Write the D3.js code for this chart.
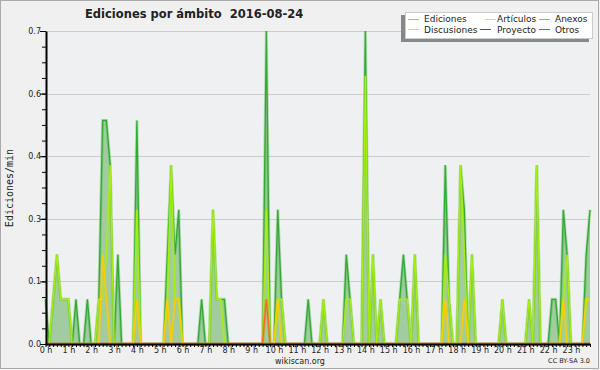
<!DOCTYPE html>
<html>
<head>
<meta charset="utf-8">
<script src="https://cdnjs.cloudflare.com/ajax/libs/d3/7.8.5/d3.min.js"></script>
<style>
  body { margin: 0; background: #f0f0f0; }
  svg { display: block; }
  text { font-family: "DejaVu Sans", sans-serif; fill: #222; }
</style>
</head>
<body>
<svg width="600" height="370"></svg>
<script>
// 10-minute bins, 6 per hour, 144 per day (edits / min)
var ediciones = [
    0.1, 0, 0.1, 0.2, 0.1, 0.1,   0.1, 0, 0.1, 0, 0, 0.1,
    0, 0, 0.1, 0.5, 0.5, 0.4,     0, 0.2, 0, 0, 0, 0,
    0.5, 0, 0, 0, 0, 0,           0, 0, 0.2, 0.4, 0.2, 0.3,
    0, 0, 0, 0, 0, 0.1,           0, 0, 0.3, 0.1, 0.1, 0.1,
    0, 0, 0, 0, 0, 0,             0, 0, 0, 0, 0.7, 0,
    0, 0.3, 0.1, 0, 0, 0,         0, 0, 0, 0.1, 0, 0,
    0, 0.1, 0, 0, 0, 0,           0, 0.2, 0.1, 0, 0, 0,
    0.7, 0, 0.2, 0, 0.1, 0,       0, 0, 0, 0.1, 0.2, 0.1,
    0, 0.2, 0, 0, 0, 0,           0, 0, 0, 0.4, 0.1, 0,
    0, 0.4, 0.3, 0, 0.2, 0,       0, 0, 0, 0, 0, 0,
    0.1, 0, 0, 0, 0, 0,           0, 0.1, 0, 0.4, 0, 0,
    0, 0.1, 0.1, 0, 0.3, 0.2,     0, 0, 0, 0, 0.2, 0.3
];
var articulos = [
    0, 0, 0.1, 0.2, 0.1, 0.1,     0.1, 0, 0, 0, 0, 0,
    0, 0, 0.1, 0.1, 0.2, 0.4,     0, 0, 0, 0, 0, 0,
    0.3, 0, 0, 0, 0, 0,           0, 0, 0.1, 0.4, 0.1, 0.1,
    0, 0, 0, 0, 0, 0,             0, 0, 0.3, 0.1, 0.1, 0,
    0, 0, 0, 0, 0, 0,             0, 0, 0, 0, 0.3, 0,
    0, 0.1, 0.1, 0, 0, 0,         0, 0, 0, 0, 0, 0,
    0, 0.1, 0, 0, 0, 0,           0, 0.1, 0.1, 0, 0, 0,
    0.6, 0, 0.2, 0, 0.1, 0,       0, 0, 0, 0.1, 0.1, 0.1,
    0, 0.2, 0, 0, 0, 0,           0, 0, 0, 0.2, 0.1, 0,
    0, 0.4, 0.2, 0, 0.2, 0,       0, 0, 0, 0, 0, 0,
    0.1, 0, 0, 0, 0, 0,           0, 0.1, 0, 0.4, 0, 0,
    0, 0, 0, 0, 0.1, 0.2,         0, 0, 0, 0, 0.1, 0.1
];
var discusiones = [
    0, 0, 0, 0, 0, 0,             0, 0, 0, 0, 0, 0,
    0, 0, 0, 0.2, 0.1, 0,         0, 0, 0, 0, 0, 0,
    0.1, 0, 0, 0, 0, 0,           0, 0, 0.1, 0, 0.1, 0.1,
    0, 0, 0, 0, 0, 0,             0, 0, 0, 0, 0, 0,
    0, 0, 0, 0, 0, 0,             0, 0, 0, 0, 0, 0,
    0, 0.1, 0, 0, 0, 0,           0, 0, 0, 0, 0, 0,
    0, 0, 0, 0, 0, 0,             0, 0, 0, 0, 0, 0,
    0, 0, 0, 0, 0, 0,             0, 0, 0, 0, 0, 0,
    0, 0, 0, 0, 0, 0,             0, 0, 0, 0.1, 0, 0,
    0, 0, 0.1, 0, 0, 0,           0, 0, 0, 0, 0, 0,
    0, 0, 0, 0, 0, 0,             0, 0, 0, 0, 0, 0,
    0, 0, 0, 0, 0.1, 0,           0, 0, 0, 0, 0.1, 0.1
];
var anexos = d3.range(144).map(function(i) { return i === 58 ? 0.1 : 0; });
var proyecto = d3.range(144).map(function() { return 0; });
var otros = d3.range(144).map(function() { return 0; });

var yTicks = [0, 0.14, 0.28, 0.42, 0.56, 0.7];

var legendItems = [
    {name: "Ediciones",   color: "#88cc88", lx: 408, tx: 424, row: 0},
    {name: "Artículos",   color: "#ccee55", lx: 485, tx: 497, row: 0},
    {name: "Anexos",      color: "#ff8855", lx: 539, tx: 555, row: 0},
    {name: "Discusiones", color: "#ffcc44", lx: 408, tx: 424, row: 1},
    {name: "Proyecto",    color: "#555555", lx: 480, tx: 497, row: 1},
    {name: "Otros",       color: "#9944ee", lx: 539, tx: 555, row: 1}
];

var svg = d3.select("svg");

svg.append("rect")
    .attr("x", 0.5).attr("y", 0.5).attr("width", 598).attr("height", 368)
    .attr("fill", "#f0f0f0").attr("stroke", "#aaaaaa");

var x = d3.scaleLinear().domain([0, 143]).range([45.5, 590]);
var y = d3.scaleLinear().domain([0, 0.7]).range([344, 31]);

svg.append("rect")
    .attr("x", 46).attr("y", 31).attr("width", 544).attr("height", 313)
    .attr("fill", "#eef0f1");

// grid
svg.append("g")
    .selectAll("line")
    .data(yTicks.slice(1)).enter()
    .append("line")
    .attr("x1", 46).attr("x2", 590)
    .attr("y1", d => Math.round(y(d)) + 0.5).attr("y2", d => Math.round(y(d)) + 0.5)
    .attr("stroke", "#cccccc");

var area = d3.area()
    .x((d, i) => x(i))
    .y0(y(0))
    .y1(d => y(d));

svg.append("path")
    .attr("fill", "#a0cca0")
    .attr("d", area(ediciones));

var lineMaker = d3.line()
    .x((d, i) => x(i))
    .y(d => y(d));

var series = [
    {data: ediciones,   color: "#33aa33"},
    {data: otros,       color: "#9933ee"},
    {data: proyecto,    color: "#555555"},
    {data: articulos,   color: "#aaee11"},
    {data: discusiones, color: "#ffcc00"},
    {data: anexos,      color: "#ff6622"}
];

series.forEach(function(s) {
    var g = svg.append("g").attr("fill", "none").attr("stroke", s.color);
    g.append("path")
        .attr("stroke-width", 3).attr("stroke-opacity", 0.3)
        .attr("d", lineMaker(s.data));
    g.append("path")
        .attr("stroke-width", 1.3)
        .attr("d", lineMaker(s.data));
});

// y axis
var yAxis = svg.append("g")
    .attr("transform", "translate(46,0)")
    .call(d3.axisLeft(y).tickValues(yTicks).tickFormat(d3.format(".1f")).tickSize(6).tickSizeOuter(0));

svg.append("g")
    .attr("transform", "translate(46,0)")
    .call(d3.axisLeft(y).tickValues(d3.range(0, 0.71, 0.035)).tickFormat("").tickSize(4).tickSizeOuter(0))
    .select(".domain").remove();

// x axis
var xAxis = svg.append("g")
    .attr("transform", "translate(0,344)")
    .call(d3.axisBottom(x).tickValues(d3.range(0, 144))
        .tickFormat(i => i % 6 === 0 ? (i / 6) + " h" : "")
        .tickSize(3).tickSizeOuter(0));

svg.selectAll(".domain").attr("stroke", "#000").attr("stroke-width", 2);
svg.selectAll(".tick line").attr("stroke", "#000");
yAxis.selectAll("text").attr("font-size", 8).attr("fill", "#333").attr("x", -5);
xAxis.selectAll("text").attr("font-size", 8).attr("fill", "#333").attr("y", 3.5);
svg.selectAll(".tick text").style("font-family", "DejaVu Sans");

// titles
svg.append("text")
    .attr("x", 85).attr("y", 17.5)
    .attr("font-size", 11.5).attr("font-weight", "bold")
    .style("white-space", "pre")
    .text("Ediciones por ámbito  2016-08-24");

svg.append("text")
    .attr("transform", "translate(12.5,188) rotate(-90)")
    .attr("text-anchor", "middle")
    .attr("font-size", 10)
    .style("font-family", "DejaVu Sans Mono")
    .text("Ediciones/min");

svg.append("text")
    .attr("x", 300).attr("y", 364)
    .attr("text-anchor", "middle").attr("font-size", 8).attr("fill", "#444")
    .text("wikiscan.org");

svg.append("text")
    .attr("x", 590).attr("y", 363)
    .attr("text-anchor", "end").attr("font-size", 6.5).attr("fill", "#444")
    .text("CC BY-SA 3.0");

// legend
var legend = svg.append("g");
legend.append("rect")
    .attr("x", 401).attr("y", 15).attr("width", 188).attr("height", 27)
    .attr("fill", "#888888");
legend.append("rect")
    .attr("x", 405.5).attr("y", 12.5).attr("width", 187).attr("height", 26)
    .attr("fill", "#ffffff").attr("stroke", "#cccccc");

legend.selectAll("line")
    .data(legendItems).enter()
    .append("line")
    .attr("x1", d => d.lx).attr("x2", d => d.lx + 11)
    .attr("y1", d => 19.5 + d.row * 10).attr("y2", d => 19.5 + d.row * 10)
    .attr("stroke", d => d.color);

legend.selectAll("text")
    .data(legendItems).enter()
    .append("text")
    .attr("x", d => d.tx).attr("y", d => 22 + d.row * 10.5)
    .attr("font-size", 9).attr("fill", "#333")
    .text(d => d.name);
</script>
</body>
</html>
